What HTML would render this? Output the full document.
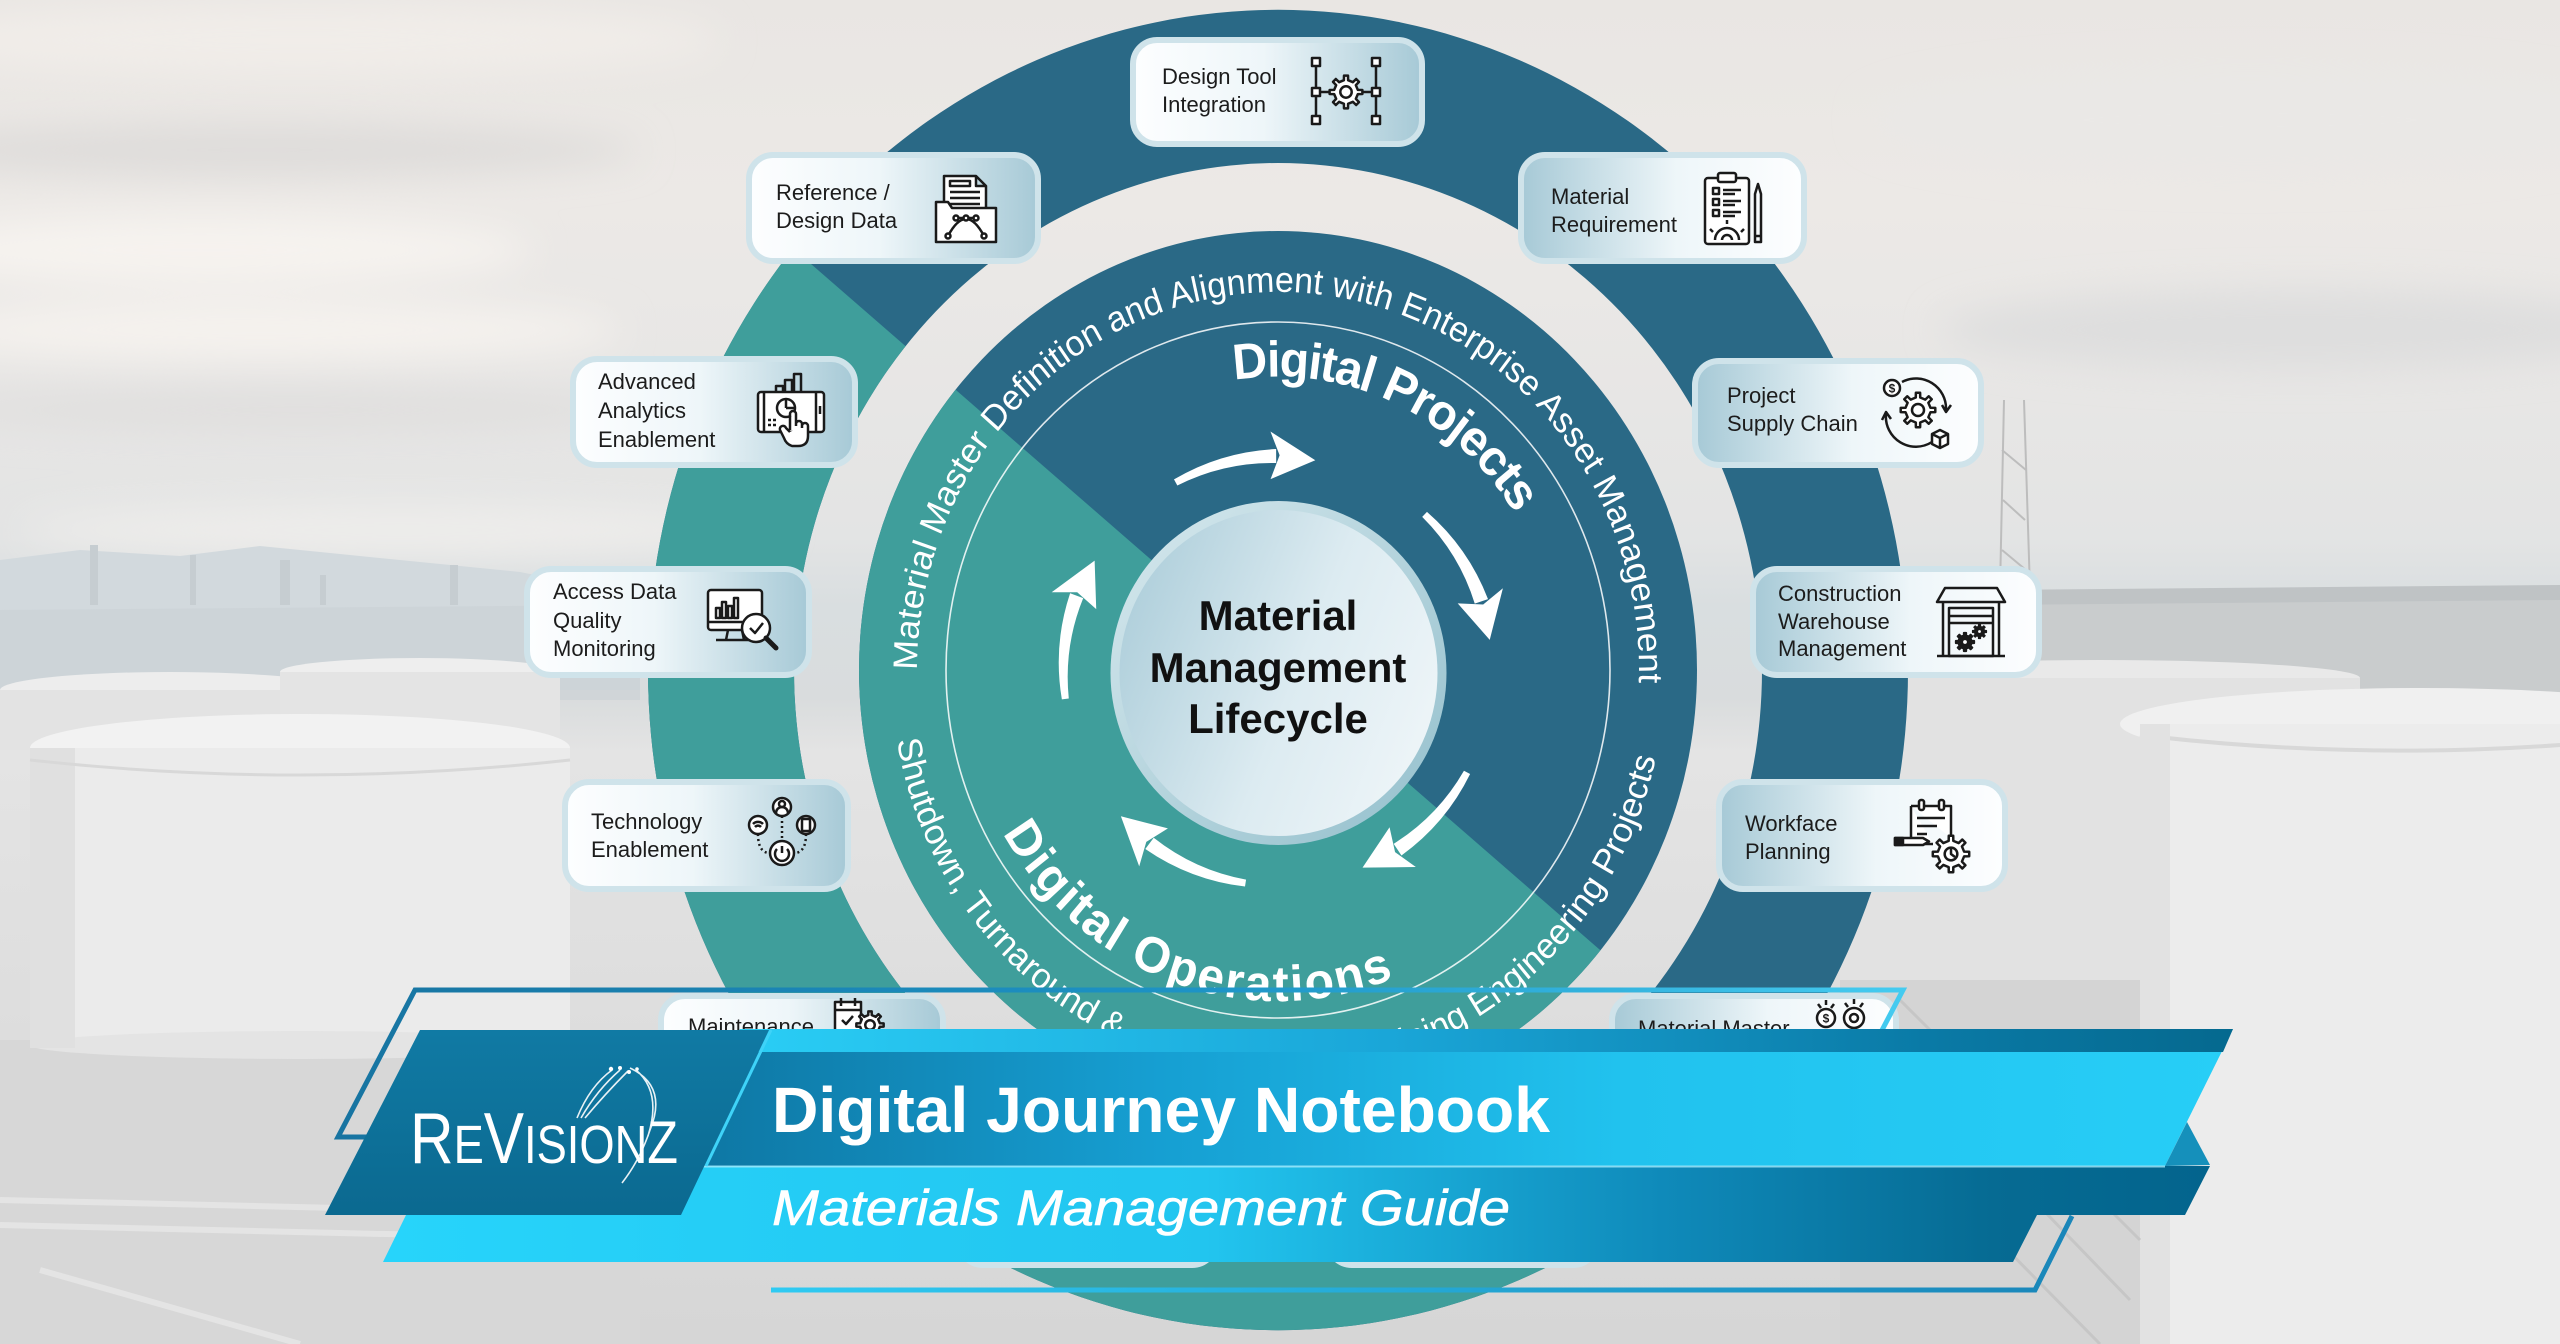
<!DOCTYPE html>
<html><head><meta charset="utf-8">
<style>
html,body{margin:0;padding:0;width:2560px;height:1344px;overflow:hidden;background:#e0e0e0}
svg{display:block}
</style></head><body>
<svg xmlns="http://www.w3.org/2000/svg" width="2560" height="1344" viewBox="0 0 2560 1344" font-family="'Liberation Sans', Arial, sans-serif">
<defs>
 <linearGradient id="sky" x1="0" y1="0" x2="0" y2="1">
  <stop offset="0" stop-color="#e9e6e3"/>
  <stop offset="0.15" stop-color="#ece9e6"/>
  <stop offset="0.3" stop-color="#e7e6e5"/>
  <stop offset="0.4" stop-color="#e3e4e4"/>
  <stop offset="0.45" stop-color="#d9dee0"/>
  <stop offset="0.52" stop-color="#d9dcdd"/>
  <stop offset="0.56" stop-color="#e4e4e4"/>
  <stop offset="0.8" stop-color="#dcdcdc"/>
  <stop offset="1" stop-color="#d6d6d6"/>
 </linearGradient>
 <filter id="blur" x="-20%" y="-50%" width="140%" height="200%"><feGaussianBlur stdDeviation="18"/></filter>
 <clipPath id="tealClip"><polygon points="-231,-642 2787,1982 1475,3491 -1543,867"/></clipPath>
 <linearGradient id="cardR" x1="0" y1="0" x2="1" y2="0">
  <stop offset="0" stop-color="#fdfeff"/><stop offset="0.45" stop-color="#eef6f9"/><stop offset="1" stop-color="#a6c9d6"/>
 </linearGradient>
 <linearGradient id="cardL" x1="1" y1="0" x2="0" y2="0">
  <stop offset="0" stop-color="#fdfeff"/><stop offset="0.45" stop-color="#eef6f9"/><stop offset="1" stop-color="#a6c9d6"/>
 </linearGradient>
 <linearGradient id="cFill" x1="0" y1="0.3" x2="1" y2="0.7">
  <stop offset="0" stop-color="#afcfdb"/><stop offset="0.55" stop-color="#dcebf1"/><stop offset="1" stop-color="#eef5f8"/>
 </linearGradient>
 <linearGradient id="cRing" x1="0" y1="0" x2="1" y2="1">
  <stop offset="0" stop-color="#d7e9ee"/><stop offset="1" stop-color="#93bfcc"/>
 </linearGradient>
 <linearGradient id="outlineG" x1="338" y1="0" x2="1903" y2="0" gradientUnits="userSpaceOnUse">
  <stop offset="0" stop-color="#1774a1"/><stop offset="0.55" stop-color="#1d93c6"/><stop offset="1" stop-color="#44cbf0"/>
 </linearGradient>
 <linearGradient id="titleG" x1="700" y1="0" x2="2233" y2="0" gradientUnits="userSpaceOnUse">
  <stop offset="0" stop-color="#0e77a4"/><stop offset="0.3" stop-color="#169fd2"/><stop offset="0.6" stop-color="#21c2ee"/><stop offset="1" stop-color="#27cef7"/>
 </linearGradient>
 <linearGradient id="stripG" x1="700" y1="0" x2="2233" y2="0" gradientUnits="userSpaceOnUse">
  <stop offset="0" stop-color="#2bd0f7"/><stop offset="0.45" stop-color="#1aa6d8"/><stop offset="0.8" stop-color="#0a7aa6"/><stop offset="1" stop-color="#05698f"/>
 </linearGradient>
 <linearGradient id="subG" x1="385" y1="0" x2="2210" y2="0" gradientUnits="userSpaceOnUse">
  <stop offset="0" stop-color="#27d4fb"/><stop offset="0.45" stop-color="#22c5ef"/><stop offset="0.7" stop-color="#0f8aba"/><stop offset="0.88" stop-color="#066b93"/><stop offset="1" stop-color="#03648d"/>
 </linearGradient>
 <linearGradient id="lineG" x1="771" y1="0" x2="2072" y2="0" gradientUnits="userSpaceOnUse">
  <stop offset="0" stop-color="#2fcaf2"/><stop offset="1" stop-color="#1a86b9"/>
 </linearGradient>
 <linearGradient id="logoG" x1="0" y1="0" x2="0" y2="1">
  <stop offset="0" stop-color="#107aa4"/><stop offset="1" stop-color="#0b6990"/>
 </linearGradient>
 <symbol id="gear" viewBox="-12 -12 24 24" overflow="visible">
  <polygon vector-effect="non-scaling-stroke" points="7.88,-1.39 10.92,-1.34 10.92,1.34 7.88,1.39 6.55,4.59 8.67,6.77 6.77,8.67 4.59,6.55 1.39,7.88 1.34,10.92 -1.34,10.92 -1.39,7.88 -4.59,6.55 -6.77,8.67 -8.67,6.77 -6.55,4.59 -7.88,1.39 -10.92,1.34 -10.92,-1.34 -7.88,-1.39 -6.55,-4.59 -8.67,-6.77 -6.77,-8.67 -4.59,-6.55 -1.39,-7.88 -1.34,-10.92 1.34,-10.92 1.39,-7.88 4.59,-6.55 6.77,-8.67 8.67,-6.77 6.55,-4.59"/>
  <circle r="3.8" vector-effect="non-scaling-stroke"/>
 </symbol>
 <symbol id="gearf" viewBox="-12 -12 24 24" overflow="visible">
  <polygon fill="#1a1a1a" points="7.88,-1.39 10.92,-1.34 10.92,1.34 7.88,1.39 6.55,4.59 8.67,6.77 6.77,8.67 4.59,6.55 1.39,7.88 1.34,10.92 -1.34,10.92 -1.39,7.88 -4.59,6.55 -6.77,8.67 -8.67,6.77 -6.55,4.59 -7.88,1.39 -10.92,1.34 -10.92,-1.34 -7.88,-1.39 -6.55,-4.59 -8.67,-6.77 -6.77,-8.67 -4.59,-6.55 -1.39,-7.88 -1.34,-10.92 1.34,-10.92 1.39,-7.88 4.59,-6.55 6.77,-8.67 8.67,-6.77 6.55,-4.59"/>
  <circle r="3.5" fill="#fff"/>
 </symbol>
 <g id="arrow">
  <path d="M171.8,-134.2 A220,220 0 0,1 218.6,-38.5 L204.8,-36.1 A210,210 0 0,0 166.3,-129.9 Z" fill="#ffffff"/>
  <polygon points="214,2 235,-47 213,-34 188,-39" fill="#ffffff"/>
 </g>
 <path id="pTop" d="M-361,0 A361,361 0 1,1 360.3,22.7"/>
 <path id="pProj" d="M-43.8,-276.6 A280,280 0 0,1 237.4,-148.4"/>
 <path id="pOps" d="M-275,155.6 A316,316 0 0,0 118.4,293"/>
 <path id="pShut" d="M-381.1,67.2 A387,387 0 0,0 193.5,335.1"/>
 <path id="pEng" d="M-132.4,363.7 A387,387 0 0,0 377.8,83.8"/>
</defs>

<!-- ============ BACKGROUND ============ -->
<rect width="2560" height="1344" fill="url(#sky)"/>
<g filter="url(#blur)">
 <ellipse cx="300" cy="40" rx="420" ry="35" fill="#f1ede9"/>
 <ellipse cx="260" cy="150" rx="380" ry="26" fill="#dedcda"/>
 <ellipse cx="200" cy="250" rx="330" ry="35" fill="#f6f3ef"/>
 <ellipse cx="260" cy="330" rx="360" ry="30" fill="#f5f2ee"/>
 <ellipse cx="300" cy="410" rx="380" ry="22" fill="#e0dfde"/>
 <ellipse cx="400" cy="530" rx="380" ry="25" fill="#eeedeb"/>
 <ellipse cx="2250" cy="120" rx="380" ry="50" fill="#eae8e6"/>
 <ellipse cx="2300" cy="330" rx="360" ry="40" fill="#dedede"/>
</g>
<!-- left horizon -->
<path d="M0,560 L80,550 L180,556 L260,546 L340,554 L420,562 L520,572 L600,588 L640,605 L640,690 L0,690 Z" fill="#d2d9dd"/>
<path d="M0,610 L640,605 L640,700 L0,700 Z" fill="#c9d1d6" opacity="0.6"/>
<g fill="#c6cdd1">
 <rect x="90" y="545" width="8" height="60"/><rect x="190" y="555" width="6" height="50"/>
 <rect x="280" y="560" width="10" height="45"/><rect x="320" y="575" width="6" height="30"/>
 <rect x="450" y="565" width="8" height="40"/>
</g>
<!-- left tanks -->
<ellipse cx="170" cy="690" rx="170" ry="18" fill="#ededed"/>
<rect x="0" y="690" width="340" height="60" fill="#e3e3e3"/>
<ellipse cx="420" cy="672" rx="140" ry="14" fill="#eeeeee"/>
<rect x="280" y="672" width="280" height="80" fill="#e4e4e4"/>
<rect x="0" y="1040" width="640" height="304" fill="#d7d7d7"/>
<g stroke="#e4e4e4" stroke-width="6" fill="none">
 <path d="M0,1200 L640,1215 M0,1225 L640,1240 M40,1270 L300,1344"/>
</g>
<ellipse cx="300" cy="748" rx="270" ry="34" fill="#f2f2f2"/>
<rect x="30" y="748" width="540" height="297" fill="#ebebeb"/>
<ellipse cx="300" cy="1045" rx="270" ry="14" fill="#e4e4e4"/>
<rect x="30" y="748" width="45" height="300" fill="#e0e0e0"/>
<path d="M30,760 Q300,790 570,760" stroke="#d8d8d8" stroke-width="3" fill="none"/>
<!-- right horizon & tanks -->
<rect x="1990" y="590" width="570" height="120" fill="#c9cccd"/>
<path d="M1990,590 L2560,585 L2560,600 L1990,605 Z" fill="#bfc3c5"/>
<g stroke="#bdbdbd" stroke-width="2" fill="none">
 <path d="M2000,590 L2004,400 M2030,590 L2024,400 M2002,450 L2026,470 M2003,500 L2025,520 M2002,550 L2026,570"/>
</g>
<ellipse cx="2100" cy="678" rx="260" ry="18" fill="#e9e9e9"/>
<rect x="1840" y="678" width="520" height="320" fill="#e2e2e2"/>
<ellipse cx="2420" cy="724" rx="300" ry="36" fill="#f0f0f0"/>
<rect x="2140" y="724" width="420" height="620" fill="#ececec"/>
<path d="M2140,735 Q2350,760 2560,745" stroke="#d8d8d8" stroke-width="4" fill="none"/>
<rect x="2140" y="724" width="30" height="620" fill="#e2e2e2"/>
<rect x="1840" y="980" width="300" height="364" fill="#d4d4d4"/>
<g stroke="#c6c6c6" stroke-width="3" fill="none">
 <path d="M1850,1010 L2130,1300 M1900,1000 L2140,1240 M1860,1100 L2100,1344"/>
</g>

<!-- ============ OUTER RING ============ -->
<path fill-rule="evenodd" fill="#2a6986" d="M648,670 a630,660 0 1,0 1260,0 a630,660 0 1,0 -1260,0 Z M794,670 a484,507 0 1,0 968,0 a484,507 0 1,0 -968,0 Z"/>
<path fill-rule="evenodd" fill="#3f9e9b" clip-path="url(#tealClip)" d="M648,670 a630,660 0 1,0 1260,0 a630,660 0 1,0 -1260,0 Z M794,670 a484,507 0 1,0 968,0 a484,507 0 1,0 -968,0 Z"/>

<!-- ============ MIDDLE DISK ============ -->
<ellipse cx="1278" cy="670" rx="419" ry="439" fill="#2a6986"/>
<ellipse cx="1278" cy="670" rx="419" ry="439" fill="#3f9e9b" clip-path="url(#tealClip)"/>
<ellipse cx="1278" cy="670" rx="332" ry="348" fill="none" stroke="#ffffff" stroke-opacity="0.85" stroke-width="1.6"/>

<!-- arc texts -->
<g transform="translate(1278 670) scale(1 1.048)" fill="#ffffff">
 <text font-size="34"><textPath href="#pTop">Material Master Definition and Alignment with Enterprise Asset Management</textPath></text>
 <text font-size="48" font-weight="bold"><textPath href="#pProj" textLength="327" lengthAdjust="spacing">Digital Projects</textPath></text>
 <text font-size="48" font-weight="bold"><textPath href="#pOps" textLength="452" lengthAdjust="spacing">Digital Operations</textPath></text>
 <text font-size="34"><textPath href="#pShut">Shutdown, Turnaround &amp;</textPath></text>
 <text font-size="34" text-anchor="end"><textPath href="#pEng" startOffset="100%">Sustaining Engineering Projects</textPath></text>
</g>

<!-- arrows -->
<use href="#arrow" transform="translate(1278 671) rotate(-80.5)"/>
<use href="#arrow" transform="translate(1278 671) rotate(-8.9)"/>
<use href="#arrow" transform="translate(1278 671) rotate(66.2)"/>
<use href="#arrow" transform="translate(1278 671) rotate(136.7)"/>
<use href="#arrow" transform="translate(1278 671) rotate(210.5)"/>

<!-- center circle -->
<ellipse cx="1278.5" cy="673" rx="168" ry="172" fill="url(#cRing)"/>
<ellipse cx="1278.5" cy="673" rx="159" ry="163" fill="url(#cFill)"/>
<g font-size="42" font-weight="bold" fill="#111" text-anchor="middle">
 <text x="1278" y="630">Material</text>
 <text x="1278" y="682">Management</text>
 <text x="1278" y="733">Lifecycle</text>
</g>

<!-- ============ CARDS ============ -->
<g stroke="#cfe3ea" stroke-width="6">
 <rect x="1133" y="40" width="289" height="104" rx="24" fill="url(#cardR)"/>
 <rect x="749" y="155" width="289" height="106" rx="24" fill="url(#cardR)"/>
 <rect x="1521" y="155" width="283" height="106" rx="24" fill="url(#cardL)"/>
 <rect x="573" y="359" width="282" height="106" rx="24" fill="url(#cardR)"/>
 <rect x="1695" y="361" width="286" height="104" rx="24" fill="url(#cardL)"/>
 <rect x="527" y="569" width="282" height="106" rx="24" fill="url(#cardR)"/>
 <rect x="1753" y="569" width="286" height="106" rx="24" fill="url(#cardL)"/>
 <rect x="565" y="782" width="283" height="107" rx="24" fill="url(#cardR)"/>
 <rect x="1719" y="782" width="286" height="107" rx="24" fill="url(#cardL)"/>
 <rect x="661" y="996" width="282" height="106" rx="24" fill="url(#cardR)"/>
 <rect x="1612" y="996" width="284" height="106" rx="24" fill="url(#cardL)"/>
 <rect x="959" y="1159" width="257" height="106" rx="24" fill="url(#cardR)"/>
 <rect x="1328" y="1159" width="269" height="106" rx="24" fill="url(#cardL)"/>
</g>
<g font-size="22" fill="#1c1c1c">
 <text x="1162" y="84">Design Tool</text><text x="1162" y="112">Integration</text>
 <text x="776" y="200">Reference /</text><text x="776" y="228">Design Data</text>
 <text x="1551" y="204">Material</text><text x="1551" y="232">Requirement</text>
 <text x="598" y="389">Advanced</text><text x="598" y="418">Analytics</text><text x="598" y="447">Enablement</text>
 <text x="1727" y="403">Project</text><text x="1727" y="431">Supply Chain</text>
 <text x="553" y="599">Access Data</text><text x="553" y="628">Quality</text><text x="553" y="656">Monitoring</text>
 <text x="1778" y="601">Construction</text><text x="1778" y="629">Warehouse</text><text x="1778" y="656">Management</text>
 <text x="591" y="829">Technology</text><text x="591" y="857">Enablement</text>
 <text x="1745" y="831">Workface</text><text x="1745" y="859">Planning</text>
 <text x="688" y="1034">Maintenance</text><text x="688" y="1062">Planning</text>
 <text x="1638" y="1036">Material Master</text><text x="1638" y="1064">Data</text>
</g>

<!-- ============ ICONS ============ -->
<g fill="none" stroke="#1a1a1a" stroke-width="2.5" stroke-linejoin="round">
 <g transform="translate(1308 56)">
  <path d="M8,10 V60 M68,10 V60 M12,36 H22 M54,36 H64"/>
  <rect x="4" y="2" width="8" height="8" fill="#fff"/><rect x="4" y="32" width="8" height="8" fill="#fff"/><rect x="4" y="60" width="8" height="8" fill="#fff"/>
  <rect x="64" y="2" width="8" height="8" fill="#fff"/><rect x="64" y="32" width="8" height="8" fill="#fff"/><rect x="64" y="60" width="8" height="8" fill="#fff"/>
  <use href="#gear" x="20" y="18" width="36" height="36" fill="#fff"/>
 </g>
 <g transform="translate(934 172)">
  <path d="M10,36 V4 H42 L52,14 V36 M42,4 V14 H52" fill="#fff"/>
  <rect x="16" y="9" width="20" height="5"/>
  <path d="M16,20 H46 M16,26 H46 M16,32 H46"/>
  <path d="M2,30 H14 L18,36 H62 V70 H2 Z" fill="#fff"/>
  <path d="M14,64 Q32,30 50,64 M22,46 H42"/>
  <circle cx="14" cy="64" r="2.5" fill="#fff"/><circle cx="50" cy="64" r="2.5" fill="#fff"/>
  <circle cx="22" cy="46" r="2.5" fill="#fff"/><circle cx="42" cy="46" r="2.5" fill="#fff"/><circle cx="32" cy="46" r="2.5" fill="#fff"/>
 </g>
 <g transform="translate(1703 170)">
  <rect x="2" y="8" width="44" height="66" rx="3" fill="#fff"/>
  <rect x="15" y="3" width="18" height="9" rx="2" fill="#fff"/>
  <rect x="10" y="18" width="6" height="6"/><rect x="10" y="29" width="6" height="6"/><rect x="10" y="40" width="6" height="6"/>
  <path d="M20,20 H38 M20,24 H32 M20,31 H38 M20,35 H32 M20,42 H38 M20,46 H32"/>
  <path d="M12,70 A12,12 0 0,1 36,70 M10,62 l-3,-3 M24,54 v-4 M38,62 l3,-3 M19,70 A5,5 0 0,1 29,70"/>
  <path d="M52,24 L55,14 L58,24 V72 H52 Z M52,66 H58"/>
 </g>
 <g transform="translate(756 370)">
  <path d="M20,24 V16 H27 V24 M29,24 V10 H36 V24 M38,24 V4 H45 V24"/>
  <rect x="2" y="22" width="66" height="40" rx="3" fill="#fff"/>
  <path d="M8,22 V62 M60,22 V62 M64,36 V44"/>
  <circle cx="30" cy="38" r="9"/><path d="M30,38 V29 M30,38 H39"/>
  <path d="M12,50 H22 M12,55 H22" stroke-dasharray="3 2"/>
  <path d="M34,44 V60 M34,44 A3,3 0 0,1 40,44 V56 M40,54 A3,3 0 0,1 46,54 V58 M46,56 A3,3 0 0,1 52,56 V66 Q52,76 42,76 H36 Q30,74 28,68 L24,60 A3,3 0 0,1 30,58 L34,62" fill="#fff"/>
 </g>
 <g transform="translate(1880 376)">
  <path d="M22,6 A30,30 0 0,1 66,34 M62,29 L66,36 L71,29"/>
  <path d="M52,66 A30,30 0 0,1 6,38 M2,44 L6,36 L11,43"/>
  <use href="#gear" x="19" y="15" width="38" height="38" fill="#fff"/>
  <circle cx="12" cy="12" r="8" fill="#fff"/>
  <text x="12" y="16.5" font-size="12" font-weight="bold" text-anchor="middle" fill="#1a1a1a" stroke="none">$</text>
  <path d="M52,58 L60,54 L68,58 V68 L60,72 L52,68 Z M52,58 L60,62 L68,58 M60,62 V72" fill="#fff"/>
 </g>
 <g transform="translate(706 588)">
  <rect x="2" y="2" width="54" height="40" rx="3" fill="#fff"/>
  <path d="M2,34 H38 M22,42 L20,52 M36,42 L38,52 M10,52 H44"/>
  <rect x="10" y="20" width="4" height="10"/><rect x="16" y="14" width="4" height="16"/><rect x="22" y="18" width="4" height="12"/><rect x="28" y="10" width="4" height="20"/>
  <circle cx="50" cy="40" r="14" fill="#fff"/>
  <path d="M44,40 L49,45 L57,35"/>
  <path d="M60,50 L70,60" stroke-width="5" stroke-linecap="round"/>
 </g>
 <g transform="translate(1935 586)">
  <path d="M10,2 H62 L70,16 H2 Z"/>
  <path d="M8,16 V70 M64,16 V70 M2,70 H70"/>
  <rect x="14" y="22" width="44" height="48"/>
  <path d="M14,30 H58 M14,37 H58"/>
  <use href="#gearf" x="20" y="46" width="20" height="20"/>
  <use href="#gearf" x="37" y="38" width="15" height="15"/>
 </g>
 <g transform="translate(748 797)">
  <circle cx="34" cy="10" r="9" fill="#fff"/><circle cx="34" cy="7" r="3"/><path d="M28,16 A6,6 0 0,1 40,16"/>
  <circle cx="10" cy="28" r="9" fill="#fff"/><path d="M5,27 A7,7 0 0,1 15,27 M7,30 A4,4 0 0,1 13,30"/>
  <circle cx="58" cy="28" r="9" fill="#fff"/><rect x="54" y="22" width="8" height="12" rx="1"/>
  <circle cx="34" cy="56" r="12" fill="#fff"/><path d="M34,49 V56 M29,52 A7,7 0 1,0 39,52"/>
  <path d="M34,19 V44 M10,37 Q10,56 22,56 M58,37 Q58,56 46,56" stroke-dasharray="2 3"/>
 </g>
 <g transform="translate(1893 798)">
  <path d="M18,8 H58 V40 M18,8 V46 H40" fill="#fff"/>
  <rect x="26" y="2" width="5" height="10" rx="2" fill="#fff"/><rect x="46" y="2" width="5" height="10" rx="2" fill="#fff"/>
  <path d="M24,20 H52 M24,28 H44 M24,36 H34"/>
  <path d="M2,40 H30 L36,43.5 L30,47 H2 Z" fill="#fff"/><rect x="2" y="40" width="8" height="7" fill="#1a1a1a"/>
  <use href="#gear" x="38" y="36" width="40" height="40" fill="#fff"/>
  <path d="M58,50 V56 L62,59"/>
 </g>
 <g transform="translate(833 996)">
  <rect x="2" y="6" width="26" height="30" fill="#fff"/>
  <path d="M8,2 V10 M22,2 V10 M2,14 H28 M9,24 L13,28 L20,20"/>
  <use href="#gear" x="22" y="14" width="30" height="30" fill="#fff"/>
 </g>
 <g transform="translate(1814 996)">
  <circle cx="12" cy="22" r="9" fill="#fff"/>
  <text x="12" y="26.5" font-size="12" font-weight="bold" text-anchor="middle" fill="#1a1a1a" stroke="none">$</text>
  <path d="M12,4 V9 M4,8 L7,12 M20,8 L17,12"/>
  <circle cx="40" cy="22" r="10" fill="#fff"/><circle cx="40" cy="22" r="4"/>
  <path d="M40,3 V8 M31,7 L34,11 M49,7 L46,11"/>
 </g>
</g>

<!-- ============ BANNER ============ -->
<polyline points="1880,1034 1903,990 415,990 338,1137 380,1137" fill="none" stroke="url(#outlineG)" stroke-width="5"/>
<polygon points="740,1029 2233,1029 2165,1166 700,1166" fill="url(#titleG)"/>
<polygon points="740,1029 2233,1029 2223,1052 729,1052" fill="url(#stripG)"/>
<polygon points="2187,1122 2210,1165 2165,1166" fill="#1590bb"/>
<polygon points="430,1166 2210,1166 2185,1215 2037,1215 2013,1262 383,1262" fill="url(#subG)"/>
<line x1="700" y1="1166.5" x2="2165" y2="1166.5" stroke="#a6ebfc" stroke-width="2" stroke-opacity="0.8"/>
<polygon points="420,1030 769,1030 681,1215 325,1215" fill="url(#logoG)"/>
<line x1="771" y1="1030" x2="706" y2="1166" stroke="#3fd3f8" stroke-width="3"/>
<polyline points="771,1290 2035,1290 2072,1216" fill="none" stroke="url(#lineG)" stroke-width="5"/>

<!-- logo -->
<g fill="none" stroke="#ffffff" stroke-width="1.6" stroke-opacity="0.9">
 <path d="M612,1070 Q590,1086 577,1118 M620,1070 Q597,1090 581,1118 M628,1071 Q605,1094 585,1118"/>
 <path d="M630,1068 Q668,1086 650,1130 Q640,1160 622,1183 M636,1070 Q662,1092 648,1136"/>
</g>
<g fill="#ffffff"><circle cx="611" cy="1069" r="2.2"/><circle cx="620" cy="1068" r="2"/><circle cx="629" cy="1072" r="2"/><circle cx="637" cy="1069" r="1.8"/></g>
<text x="410" y="1163" fill="#ffffff" textLength="268" lengthAdjust="spacingAndGlyphs"><tspan font-size="72">R</tspan><tspan font-size="54">E</tspan><tspan font-size="72">V</tspan><tspan font-size="54">ISION</tspan><tspan font-size="60">Z</tspan></text>

<!-- titles -->
<text x="772" y="1132" font-size="64" font-weight="bold" fill="#ffffff" textLength="778" lengthAdjust="spacingAndGlyphs">Digital Journey Notebook</text>
<text x="772" y="1225" font-size="50" font-style="italic" fill="#ffffff" stroke="#ffffff" stroke-width="0.6" textLength="738" lengthAdjust="spacingAndGlyphs">Materials Management Guide</text>
</svg>
</body></html>
